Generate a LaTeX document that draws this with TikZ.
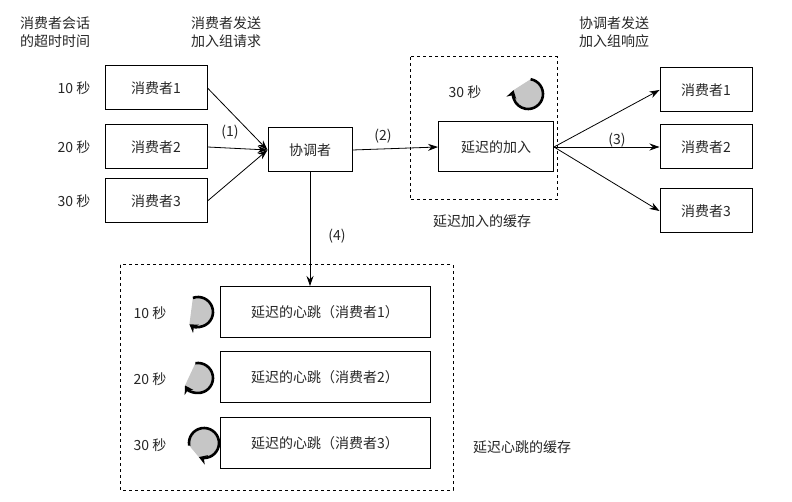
\documentclass[tikz,border=0pt]{standalone}
\usepackage{fontspec}
\newfontfamily\cjk{Noto Sans CJK SC}
\usetikzlibrary{arrows.meta,calc}
\newcommand\hbclock[4]{%
  \begin{scope}[shift={(#1,#2)},x=1pt,y=1pt]
  \fill[gray!45] (#3:15) arc[start angle=#3,end angle=#4,radius=15] -- cycle;
  \draw[line width=2.6pt,-{Stealth[length=8pt,width=10pt]}] (#3:15) arc[start angle=#3,end angle=#4,radius=15];
  \end{scope}}
\begin{document}
\begin{tikzpicture}[x=1pt,y=-1pt,
  every node/.style={font=\cjk\fontsize{14}{18}\selectfont,text=black!85},
  box/.style={draw,line width=1pt,minimum height=44pt,inner sep=0pt},
  arr/.style={-{Stealth[length=10pt,width=7pt]},line width=0.8pt},
  cache/.style={draw,dashed,line width=1pt}]
\useasboundingbox (0,0) rectangle (792,502);
\node[align=center] (h1) at (55,32) {消费者会话\\的超时时间};
\node[align=center] (h2) at (226,32) {消费者发送\\加入组请求};
\node[align=center] (h3) at (614,32) {协调者发送\\加入组响应};
% left consumers
\node[box,minimum width=102pt] (c1) at (156,88) {消费者1};
\node[box,minimum width=102pt] (c2) at (156,147) {消费者2};
\node[box,minimum width=102pt] (c3) at (156,201) {消费者3};
\node (t1) at (74,88) {10 秒};
\node (t2) at (74,147) {20 秒};
\node (t3) at (74,201) {30 秒};
\node[box,minimum width=84pt] (co) at (310,150) {协调者};
\foreach \c in {c1,c2,c3} \draw[arr] (\c.east) -- (co.west);
\node (l1) at (230,132) {(1)};
% delayed join
\draw[cache] (410,57) rectangle (557,200);
\node (jc) at (482,221) {延迟加入的缓存};
\node[box,minimum width=115pt,minimum height=50pt] (dj) at (496,147) {延迟的加入};
\node (t4) at (465,92) {30 秒};
\hbclock{528}{94}{80}{-195}
\draw[arr] (co.east) -- (dj.west);
\node (l2) at (383,136) {(2)};
% right consumers
\node[box,minimum width=92pt] (r1) at (706,90) {消费者1};
\node[box,minimum width=92pt] (r2) at (706,147) {消费者2};
\node[box,minimum width=92pt] (r3) at (706,211) {消费者3};
\foreach \c in {r1,r2,r3} \draw[arr] (dj.east) -- (\c.west);
\node (l3) at (617,140) {(3)};
% heartbeats
\draw[cache] (120,265) rectangle (453,490);
\node[box,minimum width=210pt,minimum height=51pt] (b1) at (325,312) {延迟的心跳（消费者1）};
\node[box,minimum width=210pt,minimum height=51pt] (b2) at (325,377) {延迟的心跳（消费者2）};
\node[box,minimum width=210pt,minimum height=51pt] (b3) at (325,443) {延迟的心跳（消费者3）};
\draw[arr] (co.south) -- (co.south |- b1.north);
\node (l4) at (337,236) {(4)};
\node (t5) at (150,313) {10 秒};
\node (t6) at (150,379) {20 秒};
\node (t7) at (150,445) {30 秒};
\hbclock{198}{312}{110}{-125}
\hbclock{198}{378}{100}{-150}
\hbclock{204}{443}{-170}{-470}
\node (hc) at (522,447) {延迟心跳的缓存};
\end{tikzpicture}
\end{document}
